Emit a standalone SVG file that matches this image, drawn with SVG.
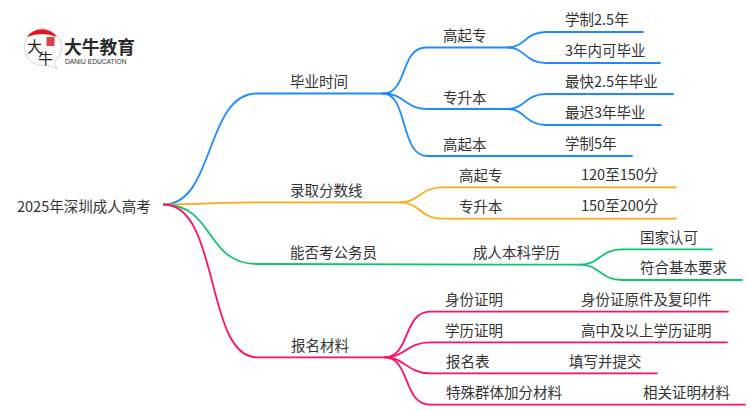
<svg xmlns="http://www.w3.org/2000/svg" width="750" height="410" viewBox="0 0 750 410">
<style>
text{font-family:"Noto Sans CJK SC","Liberation Sans",sans-serif;font-size:14.5px;fill:#333}
.c{fill:none;stroke-width:1.8;stroke-linecap:round}
.b{stroke:#1a8cff}.o{stroke:#ffaa14}.g{stroke:#0fc46f}.p{stroke:#ff0f6b}
</style>
<rect width="750" height="410" fill="#fff"/>
<g id="connectors">
<g class="c b">
<path class="c b" d="M164 204.5C215 204 205 93.5 257 93.5H383"/>
<path class="c b" d="M383 93.5C408 93.5 400 47.5 426 47.5H508"/>
<path class="c b" d="M383 93.5C405 93.5 405 109 427 109H508"/>
<path class="c b" d="M383 93.5C408 93.5 400 156 427 156H632"/>
<path class="c b" d="M508 47.5C525 47.5 525 32 546 32H643"/>
<path class="c b" d="M508 47.5C525 47.5 525 63 546 63H660"/>
<path class="c b" d="M508 109C525 109 525 94 546 94H673"/>
<path class="c b" d="M508 109C525 109 525 125 546 125H661"/>
</g>
<path class="c o" d="M164 204.5C205 204 220 202.3 257 202.3H400"/>
<path class="c o" d="M400 202.3C420 202.3 420 187.3 442 187.3H676"/>
<path class="c o" d="M400 202.3C420 202.3 420 218.7 442 218.7H676"/>
<path class="c g" d="M164 204.5C215 205 205 264 257 264L580 264.7"/>
<path class="c g" d="M580 264.7C600 264.7 600 249.3 622 249.3H712"/>
<path class="c g" d="M580 264.7C600 264.7 600 280 622 280H742"/>
<path class="c p" d="M164 204.5C220 205 205 357.3 257 357.3H385"/>
<path class="c p" d="M385 357.3C410 357.3 403 311.7 430 311.7H728"/>
<path class="c p" d="M385 357.3C405 357.3 407 342.3 430 342.3H727"/>
<path class="c p" d="M385 357.3C405 357.3 407 373.3 430 373.3H657"/>
<path class="c p" d="M385 357.3C410 357.3 403 404.7 430 404.7H745"/>
</g>
<g id="logo">
<path d="M42 28.5A18.5 18.5 0 1 0 47 65L57 68.500L54 62A18.500 18.500 0 0 0 42 28.500Z" fill="#fff" stroke="#c9c9c9" stroke-width="0.8"/>
<path d="M27 37A18.500 18.500 0 0 1 57 37Q42 31 27 37Z" fill="#e3141d"/>
<rect x="46.500" y="37" width="8" height="9" fill="#d9434a"/>
<text x="27" y="52" style="font-size:15px;fill:#222">大</text>
<text x="38" y="64" style="font-size:15px;fill:#222">牛</text>
<text x="64" y="54" style="font-size:17.800px;font-weight:700;fill:#2b2b2b">大牛教育</text>
<text x="65" y="63.500" style="font-size:6.700px;font-family:'Liberation Sans',sans-serif;fill:#333">DANIU EDUCATION</text>
</g>
<g id="root"><text x="17" y="212">2025年深圳成人高考</text></g>
<g id="n1"><text x="290" y="87">毕业时间</text></g>
<g id="n1a"><text x="443" y="41">高起专</text></g>
<g id="n1a1"><text x="565" y="25">学制2.5年</text></g>
<g id="n1a2"><text x="565" y="56">3年内可毕业</text></g>
<g id="n1b"><text x="443" y="103">专升本</text></g>
<g id="n1b1"><text x="565" y="87">最快2.5年毕业</text></g>
<g id="n1b2"><text x="565" y="118">最迟3年毕业</text></g>
<g id="n1c"><text x="443" y="150">高起本</text></g>
<g id="n1c1"><text x="565" y="149">学制5年</text></g>
<g id="n2"><text x="290" y="196">录取分数线</text></g>
<g id="n2a"><text x="459" y="181">高起专</text></g>
<g id="n2a1"><text x="581" y="180">120至150分</text></g>
<g id="n2b"><text x="459" y="212">专升本</text></g>
<g id="n2b1"><text x="581" y="211">150至200分</text></g>
<g id="n3"><text x="290" y="258">能否考公务员</text></g>
<g id="n3a"><text x="473" y="258">成人本科学历</text></g>
<g id="n3a1"><text x="640" y="243">国家认可</text></g>
<g id="n3a2"><text x="640" y="273">符合基本要求</text></g>
<g id="n4"><text x="291" y="351">报名材料</text></g>
<g id="n4a"><text x="445" y="305">身份证明</text></g>
<g id="n4a1"><text x="581" y="305">身份证原件及复印件</text></g>
<g id="n4b"><text x="445" y="336">学历证明</text></g>
<g id="n4b1"><text x="581" y="336">高中及以上学历证明</text></g>
<g id="n4c"><text x="446" y="367">报名表</text></g>
<g id="n4c1"><text x="569" y="367">填写并提交</text></g>
<g id="n4d"><text x="446" y="398">特殊群体加分材料</text></g>
<g id="n4d1"><text x="643" y="398">相关证明材料</text></g>
</svg>
